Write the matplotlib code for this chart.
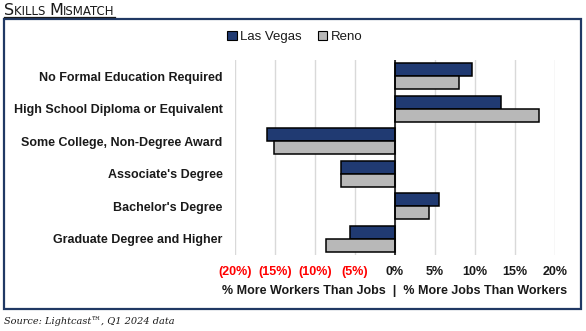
import matplotlib
matplotlib.use("Agg")
import matplotlib.pyplot as plt
from matplotlib.patches import Rectangle, Patch
from matplotlib.lines import Line2D

categories = [
    "No Formal Education Required",
    "High School Diploma or Equivalent",
    "Some College, Non-Degree Award",
    "Associate's Degree",
    "Bachelor's Degree",
    "Graduate Degree and Higher",
]
las_vegas = [9.6, 13.25, -16.0, -6.75, 5.5, -5.6]
reno = [8.0, 18.0, -15.1, -6.75, 4.25, -8.6]
tick_values = [-20, -15, -10, -5, 0, 5, 10, 15, 20]
tick_labels = ["(20%)", "(15%)", "(10%)", "(5%)", "0%", "5%", "10%", "15%", "20%"]

NAVY = "#203A72"
GRAY = "#B8B8B8"
FRAME = "#203864"
TEXT = "#1a1a1a"

W, H = 586, 331
fig = plt.figure(figsize=(W / 100, H / 100), dpi=100)
plt.rcParams["font.family"] = ["Liberation Sans", "DejaVu Sans"]

# outer frame
fig.patches.append(Rectangle((4 / W, 1 - 309 / H), 577 / W, 290 / H,
                             transform=fig.transFigure, fill=False,
                             edgecolor=FRAME, linewidth=1.6))

ax = fig.add_axes([235 / W, 1 - 255 / H, 320 / W, 195 / H])
n = len(categories)
ys = list(range(n))
bh = 0.4
ax.barh([y - bh / 2 for y in ys], las_vegas, height=bh, color=NAVY,
        edgecolor="black", linewidth=1.1, zorder=3, label="Las Vegas")
ax.barh([y + bh / 2 for y in ys], reno, height=bh, color=GRAY,
        edgecolor="black", linewidth=1.1, zorder=3, label="Reno")
ax.set_ylim(n - 0.5, -0.5)
ax.set_xlim(-20, 20)
ax.axvline(0, color="black", linewidth=1.1, zorder=4)
ax.set_xticks(tick_values)
ax.set_xticklabels(tick_labels)
for lbl, v in zip(ax.get_xticklabels(), tick_values):
    lbl.set_color("#FF0000" if v < 0 else TEXT)
    lbl.set_fontsize(9)
    lbl.set_fontweight("bold")
ax.tick_params(axis="x", length=0, pad=8)
ax.grid(axis="x", color="#D9D9D9", linewidth=1.0, zorder=0)
ax.set_yticks(ys)
ax.set_yticklabels(categories, fontsize=9, color=TEXT, fontweight="bold")
ax.tick_params(axis="y", length=0, pad=9)
for s in ax.spines.values():
    s.set_visible(False)
ax.set_xlabel("% More Workers Than Jobs  |  % More Jobs Than Workers",
              fontsize=9, fontweight="bold", color=TEXT, labelpad=5)

handles = [Patch(facecolor=NAVY, edgecolor="black", linewidth=0.8),
           Patch(facecolor=GRAY, edgecolor="black", linewidth=0.8)]
fig.legend(handles, ["Las Vegas", "Reno"], loc="center",
           bbox_to_anchor=(295 / W, 1 - 37 / H), ncol=2, frameon=False,
           fontsize=9.5, handlelength=0.7, handleheight=0.7,
           handletextpad=0.3, columnspacing=1.2, labelcolor=TEXT)

# small-caps title built from pieces
renderer = fig.canvas.get_renderer()
x = 4 / W
ybase = 1 - 15 / H
pieces = [("S", 11.5), ("KILLS ", 8.5), ("M", 11.5), ("ISMATCH", 8.5)]
x0 = x
for txt, fs in pieces:
    t = fig.text(x, ybase, txt, fontsize=fs, color=TEXT,
                 family=["DejaVu Sans"], va="baseline", ha="left")
    bb = t.get_window_extent(renderer)
    x += bb.width / W
fig.add_artist(Line2D([x0, x], [1 - 17 / H, 1 - 17 / H],
                      transform=fig.transFigure, color=TEXT,
                      linewidth=0.9))

fig.text(4 / W, 1 - 321 / H, "Source: Lightcast\u2122, Q1 2024 data",
         fontsize=7, style="italic", family=["DejaVu Serif"],
         color=TEXT, va="center", ha="left")

fig.savefig("out.png", dpi=100)
